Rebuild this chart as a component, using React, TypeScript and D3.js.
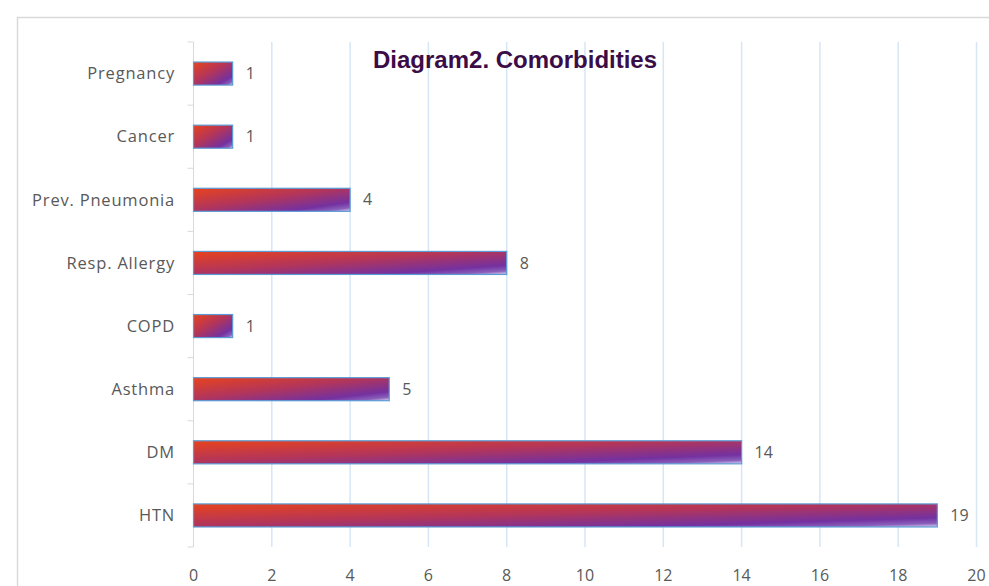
import React from "react";
import * as d3 from "d3";

const categories = ["Pregnancy", "Cancer", "Prev. Pneumonia", "Resp. Allergy", "COPD", "Asthma", "DM", "HTN"];
const values = [1, 1, 4, 8, 1, 5, 14, 19];
const xTicks = [0, 2, 4, 6, 8, 10, 12, 14, 16, 18, 20];
const title = "Diagram2. Comorbidities";

export default function App() {
  const W = 989, H = 586;
  const left = 193.5, right = 976.5, top = 42, bottom = 547;
  const x = d3.scaleLinear().domain([0, 20]).range([left, right]);
  const y = d3.scaleBand().domain(categories).range([top, bottom]).paddingInner(0.635).paddingOuter(0.3175);
  const font = "'Open Sans', 'Liberation Sans', sans-serif";
  const boundaries = d3.range(categories.length + 1).map(i => top + (i * (bottom - top)) / categories.length);
  return (
    <svg width={W} height={H} style={{ position: "absolute", left: 0, top: 0, background: "#fff" }}>
      <defs>
        <linearGradient id="barGrad" x1="0" y1="0" x2="1" y2="1">
          <stop offset="0" stopColor="#e8431c" />
          <stop offset="0.45" stopColor="#b3355a" />
          <stop offset="0.8" stopColor="#7431a0" />
          <stop offset="0.92" stopColor="#8a60bb" />
          <stop offset="1" stopColor="#dcd6f2" />
        </linearGradient>
      </defs>
      <rect x={17.5} y={17.5} width={W} height={H} fill="#fff" stroke="#d9d9d9" strokeWidth={1.5} />
      {xTicks.slice(1).map(t => (
        <line key={t} x1={x(t)} x2={x(t)} y1={top} y2={bottom} stroke="#d6e6f6" strokeWidth={1.5} />
      ))}
      <line x1={left} x2={left} y1={top} y2={bottom} stroke="#d9d9d9" strokeWidth={1} />
      {boundaries.map((b, i) => (
        <line key={i} x1={left - 6} x2={left} y1={b} y2={b} stroke="#d9d9d9" strokeWidth={1} />
      ))}
      {categories.map((c, i) => (
        <g key={c}>
          <rect x={x(0)} y={y(c)!} width={x(values[i]) - x(0)} height={y.bandwidth()} fill="url(#barGrad)" stroke="#5b9bd5" strokeWidth={1.2} />
          <text x={175} y={y(c)! + y.bandwidth() / 2} dy="0.35em" textAnchor="end" fontFamily={font} fontSize={16.5} letterSpacing={0.8} fill="#595959">{c}</text>
          <text x={x(values[i]) + 13} y={y(c)! + y.bandwidth() / 2} dy="0.35em" textAnchor="start" fontFamily={font} fontSize={16} fill="#595959">{values[i]}</text>
        </g>
      ))}
      {xTicks.map(t => (
        <text key={t} x={x(t)} y={575} dy="0.35em" textAnchor="middle" fontFamily={font} fontSize={16} fill="#595959">{t}</text>
      ))}
      <text x={373} y={68} fontFamily="'Liberation Sans', Arial, sans-serif" fontWeight="bold" fontSize={24} fill="#3b0d48">{title}</text>
    </svg>
  );
}
